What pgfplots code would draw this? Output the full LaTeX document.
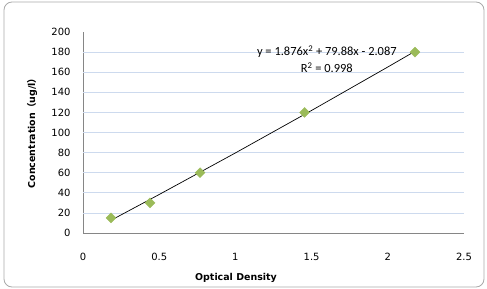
\documentclass[border=0pt]{standalone}
\usepackage{fontspec}
\setmainfont{DejaVu Sans}
\newfontfamily\cjk{Noto Sans CJK SC}
\newfontfamily\eqfont{Carlito}
\usepackage{pgfplots}
\pgfplotsset{compat=1.18}
\definecolor{gridblue}{RGB}{205,218,238}
\definecolor{axgray}{RGB}{134,134,134}
\definecolor{mkgreen}{RGB}{155,187,89}
\definecolor{framegray}{RGB}{170,170,170}
\begin{document}
\begin{tikzpicture}
\path[use as bounding box] (0,0) rectangle (487bp,-289bp);
\fill[white] (0,0) rectangle (487bp,-289bp);
\draw[framegray, rounded corners=8bp, line width=0.8bp] (4bp,-2bp) rectangle (484bp,-287bp);
\begin{axis}[
  at={(83bp,-233bp)}, anchor=origin,
  scale only axis, width=381bp, height=201bp,
  xmin=0, xmax=2.5, ymin=0, ymax=200,
  axis x line*=bottom, axis y line*=left,
  axis line style={axgray, line width=0.8bp},
  x axis line style={-}, y axis line style={-},
  xtick={0,0.5,1,1.5,2,2.5},
  xticklabels={0,0.5,1,1.5,2,2.5},
  ytick={0,20,...,200},
  extra y ticks={20,40,...,180},
  extra y tick labels={},
  extra y tick style={grid=major, major grid style={gridblue, line width=0.8bp}, major tick length=0pt},
  major tick length=0pt,
  tick label style={font=\fontsize{10}{12}\selectfont, text=black},
  /pgf/number format/assume math mode=true,
  xticklabel style={yshift=-17bp},
  yticklabel style={xshift=-9bp},
  xlabel={\bfseries Optical Density},
  ylabel={\bfseries Concentration{\cjk\bfseries （}ug/l{\cjk\bfseries ）}},
  label style={font=\fontsize{9.5}{11}\selectfont},
  xlabel style={at={(axis description cs:0.4016,-0.224)}, anchor=center},
  ylabel style={at={(axis description cs:-0.134,0.507)}, anchor=center, rotate=0},
  clip=false,
]
\addplot[black, line width=0.7bp, no marks] coordinates {
  (0.184,12.68) (0.5,38.32) (1.0,79.67) (1.5,121.95) (2.0,165.18) (2.178,180.79)
};
\addplot[only marks, mark=square*, mark size=3.5bp, mark options={rotate=45, fill=mkgreen, draw=mkgreen}] coordinates {
  (0.184,15) (0.44,30) (0.768,60) (1.454,120) (2.178,180)
};
\node[font=\eqfont\fontsize{12.5}{14}\selectfont, anchor=center] at (axis description cs:0.640,0.902) {y = 1.876x\textsuperscript{2} + 79.88x - 2.087};
\node[font=\eqfont\fontsize{12.5}{14}\selectfont, anchor=center] at (axis description cs:0.640,0.823) {R\textsuperscript{2} = 0.998};
\end{axis}
\end{tikzpicture}
\end{document}
